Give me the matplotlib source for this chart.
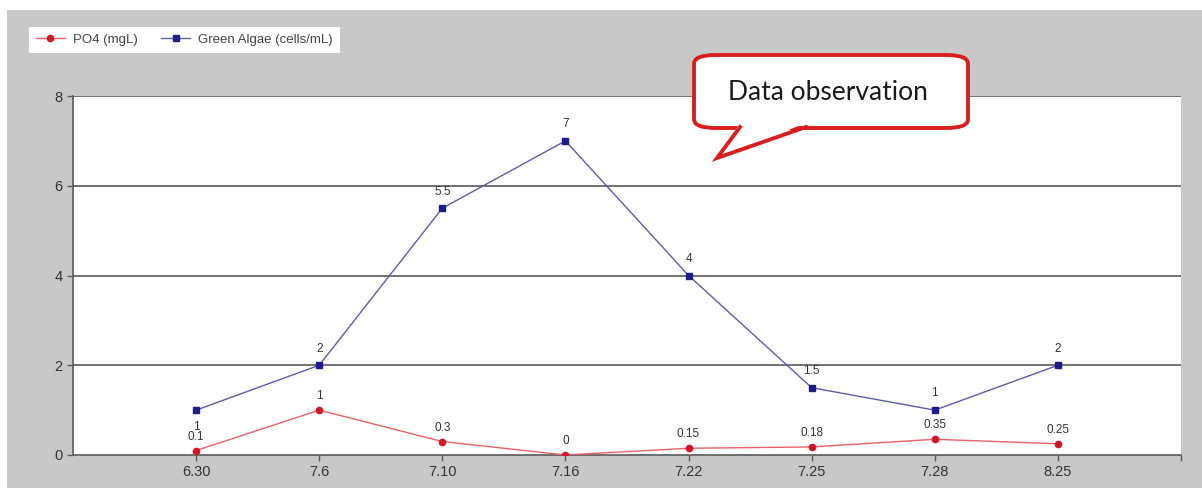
import matplotlib.pyplot as plt
from matplotlib.patches import Rectangle, FancyBboxPatch, Polygon
from matplotlib.lines import Line2D

# datos del grafico
fechas = ['6.30', '7.6', '7.10', '7.16', '7.22', '7.25', '7.28', '8.25']
po4 = [0.1, 1, 0.3, 0, 0.15, 0.18, 0.35, 0.25]
algas = [1, 2, 5.5, 7, 4, 1.5, 1, 2]
etiquetas_po4 = ['0.1', '1', '0.3', '0', '0.15', '0.18', '0.35', '0.25']
etiquetas_algas = ['1', '2', '5.5', '7', '4', '1.5', '1', '2']

W, H = 1202, 488
plt.rcParams['font.family'] = ['Liberation Sans', 'DejaVu Sans']

fig = plt.figure(figsize=(W / 100, H / 100), dpi=100)
fig.patch.set_facecolor('#c8c8c8')


def px(x, y):
    # pixeles de la imagen -> coordenadas de figura
    return (x / W, 1 - y / H)


# franjas blancas arriba y a la izquierda
fig.patches.append(Rectangle((0, 1 - 10 / H), 1, 10 / H, transform=fig.transFigure,
                             facecolor='white', edgecolor='none', zorder=0))
fig.patches.append(Rectangle((0, 0), 7 / W, 1, transform=fig.transFigure,
                             facecolor='white', edgecolor='none', zorder=0))

ax = fig.add_axes([73 / W, (H - 455) / H, (1181 - 73) / W, (455 - 96) / H])
ax.set_facecolor('white')

x = list(range(len(fechas)))
azul_linea = '#5c5cac'
azul_marca = '#1c1c8a'
rojo_linea = '#e8606a'
rojo_marca = '#d41424'

ax.plot(x, po4, color=rojo_linea, lw=1.0, marker='o', ms=4.5,
        mfc=rojo_marca, mec=rojo_marca, label='PO4 (mgL)', zorder=4)
ax.plot(x, algas, color=azul_linea, lw=1.0, marker='s', ms=4,
        mfc=azul_marca, mec=azul_marca, label='Green Algae (cells/mL)', zorder=4)

for i in x:
    if i == 0:
        ax.annotate(etiquetas_algas[i], (i, algas[i]), xytext=(0, -12), textcoords='offset points',
                    ha='center', va='center', fontsize=8.5, color='#333333')
    else:
        ax.annotate(etiquetas_algas[i], (i, algas[i]), xytext=(0, 12), textcoords='offset points',
                    ha='center', va='center', fontsize=8.5, color='#333333')
    ax.annotate(etiquetas_po4[i], (i, po4[i]), xytext=(0, 10), textcoords='offset points',
                ha='center', va='center', fontsize=8.5, color='#333333')

ax.set_xlim(-1, 8)
ax.set_ylim(0, 8)
ax.set_xticks(x + [8])
ax.set_xticklabels(fechas + [''])
ax.set_yticks([0, 2, 4, 6, 8])
for yv in [2, 4, 6, 8]:
    ax.axhline(yv, color='#5a5a5a', lw=1.2, zorder=1)
for s in ['top', 'right']:
    ax.spines[s].set_visible(False)
for s in ['left', 'bottom']:
    ax.spines[s].set_color('#5a5a5a')
    ax.spines[s].set_linewidth(1.2)
ax.tick_params(axis='both', colors='#5a5a5a', labelcolor='#333333', labelsize=10.5,
               length=4, width=1)

# leyenda
fig.legend(loc='upper left', bbox_to_anchor=px(22, 20), ncol=2, fontsize=9.5,
           frameon=True, facecolor='white', edgecolor='none', fancybox=False,
           framealpha=1, handlelength=2.2, columnspacing=1.8, borderpad=0.55,
           handletextpad=0.6, labelcolor='#444444')

# globo "Data observation"
bx0, by0, bx1, by1 = 694, 55, 968, 128
fig.patches.append(FancyBboxPatch(px(bx0, by1), (bx1 - bx0) / W, (by1 - by0) / H,
                                  boxstyle='round,pad=0,rounding_size=0.018',
                                  transform=fig.transFigure, facecolor='white',
                                  edgecolor='#d81e1e', lw=2.8, zorder=5))
fig.patches.append(Polygon([px(740, by1 - 5), px(717, 158), px(806, by1 - 5)], closed=True,
                           transform=fig.transFigure, facecolor='white', edgecolor='none', zorder=6))
fig.lines.append(Line2D([740 / W, 717 / W, 806 / W], [1 - (by1 - 1) / H, 1 - 158 / H, 1 - (by1 - 1) / H],
                        transform=fig.transFigure, color='#d81e1e', lw=2.8, zorder=7,
                        solid_joinstyle='miter'))
fig.text(*px(828, 93), 'Data observation', ha='center', va='center', fontsize=19,
         family=['Lato', 'DejaVu Sans'], color='#1a1a1a', zorder=8)

fig.savefig('out.png', dpi=100, facecolor=fig.get_facecolor())
